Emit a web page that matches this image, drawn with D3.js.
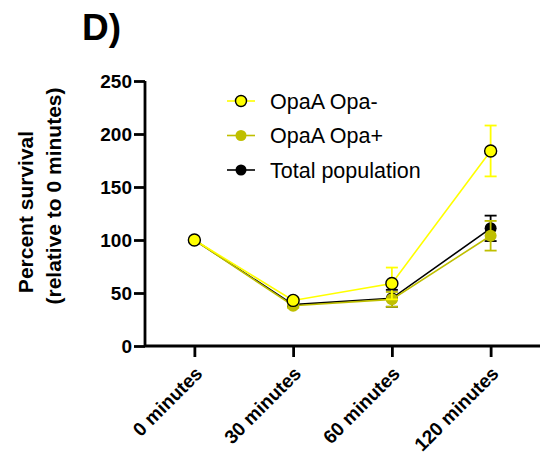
<!DOCTYPE html>
<html>
<head>
<meta charset="utf-8">
<script src="https://cdn.jsdelivr.net/npm/d3@7"></script>
<style>
  body { margin: 0; background: #fff; }
  text { font-family: "Liberation Sans", Arial, sans-serif; }
</style>
</head>
<body>
<div id="chart"></div>
<script>
// data
var timepoints = ["0 minutes", "30 minutes", "60 minutes", "120 minutes"];
var yTicks = [0, 50, 100, 150, 200, 250];

var opaMinusMean = [100, 43, 59, 184];
var opaMinusErr  = [0, 3, 15, 24];
var opaPlusMean  = [100, 38, 44, 104];
var opaPlusErr   = [0, 2, 7, 14];
var totalMean    = [100, 39, 45, 111];
var totalErr     = [0, 2, 8, 12];

var seriesNames = ["OpaA Opa-", "OpaA Opa+", "Total population"];

var W = 541, H = 462;
var margin = {top: 81, right: 1, bottom: 116, left: 145},
    width = W - margin.left - margin.right,
    height = H - margin.top - margin.bottom;

var svg = d3.select("#chart").append("svg")
  .attr("width", W).attr("height", H);

var g = svg.append("g")
  .attr("transform", "translate(" + margin.left + "," + margin.top + ")");

var x = d3.scalePoint().domain(timepoints).range([0, width]).padding(0.5);
var y = d3.scaleLinear().domain([0, 250]).range([height, 0]);

// axes
var yAxis = g.append("g")
  .call(d3.axisLeft(y).tickValues(yTicks).tickSize(11).tickPadding(2));
var xAxis = g.append("g")
  .attr("transform", "translate(0," + height + ")")
  .call(d3.axisBottom(x).tickSize(11).tickPadding(4));

[yAxis, xAxis].forEach(function(a) {
  a.select(".domain").attr("stroke", "#000").attr("stroke-width", 2.8);
  a.selectAll(".tick line").attr("stroke", "#000").attr("stroke-width", 2.8);
  a.selectAll("text").attr("fill", "#000").style("font-weight", "bold")
    .style("font-size", "19px").style("font-family", "Liberation Sans, Arial, sans-serif");
});
xAxis.select(".domain").attr("d", "M0,0H" + width);
yAxis.select(".domain").attr("d", "M0,0V" + height);

xAxis.selectAll("text")
  .attr("text-anchor", "end")
  .attr("transform", "translate(4,24) rotate(-45)")
  .attr("dy", "0.35em").attr("y", 0);

// series
var series = [
  {name: seriesNames[0], mean: opaMinusMean, err: opaMinusErr, color: "#ffff00", stroke: "#000"},
  {name: seriesNames[1], mean: opaPlusMean,  err: opaPlusErr,  color: "#bfbf00", stroke: "none"},
  {name: seriesNames[2], mean: totalMean,    err: totalErr,    color: "#000000", stroke: "none"}
];

var line = d3.line()
  .x(function(d, i) { return x(timepoints[i]); })
  .y(function(d) { return y(d); });

// draw order: total below, then Opa+, Opa- on top
[series[2], series[1], series[0]].forEach(function(s) {
  var sg = g.append("g");
  sg.append("path").datum(s.mean)
    .attr("d", line)
    .attr("fill", "none")
    .attr("stroke", s.color)
    .attr("stroke-width", 1.6);

  s.mean.forEach(function(m, i) {
    if (!s.err[i]) return;
    var cx = x(timepoints[i]);
    var eg = sg.append("g").attr("stroke", s.color).attr("stroke-width", 1.8);
    eg.append("line").attr("x1", cx).attr("x2", cx)
      .attr("y1", y(m - s.err[i])).attr("y2", y(m + s.err[i]));
    [m - s.err[i], m + s.err[i]].forEach(function(v) {
      eg.append("line").attr("x1", cx - 6).attr("x2", cx + 6)
        .attr("y1", y(v)).attr("y2", y(v));
    });
  });

  sg.selectAll("circle").data(s.mean).enter().append("circle")
    .attr("cx", function(d, i) { return x(timepoints[i]); })
    .attr("cy", function(d) { return y(d); })
    .attr("r", 6)
    .attr("fill", s.color)
    .attr("stroke", s.stroke)
    .attr("stroke-width", 1.4);
});

// legend
var legend = svg.append("g").attr("transform", "translate(227,101)");
series.forEach(function(s, i) {
  var lg = legend.append("g").attr("transform", "translate(0," + (i * 34.5) + ")");
  lg.append("line").attr("x1", 0).attr("x2", 28).attr("y1", 0).attr("y2", 0)
    .attr("stroke", s.color).attr("stroke-width", 1.6);
  lg.append("circle").attr("cx", 14).attr("cy", 0).attr("r", 5.5)
    .attr("fill", s.color).attr("stroke", s.stroke).attr("stroke-width", 1.4);
  lg.append("text").attr("x", 43).attr("y", 0).attr("dy", "0.35em")
    .style("font-size", "21.5px").attr("fill", "#000").text(s.name);
});

// y label
svg.append("text")
  .attr("transform", "translate(33,212) rotate(-90)")
  .attr("text-anchor", "middle")
  .style("font-weight", "bold").style("font-size", "21px")
  .text("Percent survival");
svg.append("text")
  .attr("transform", "translate(61,196) rotate(-90)")
  .attr("text-anchor", "middle")
  .style("font-weight", "bold").style("font-size", "21px")
  .text("(relative to 0 minutes)");

// panel letter
svg.append("text").attr("x", 82).attr("y", 40)
  .style("font-weight", "bold").style("font-size", "37px").text("D)");
</script>
</body>
</html>
